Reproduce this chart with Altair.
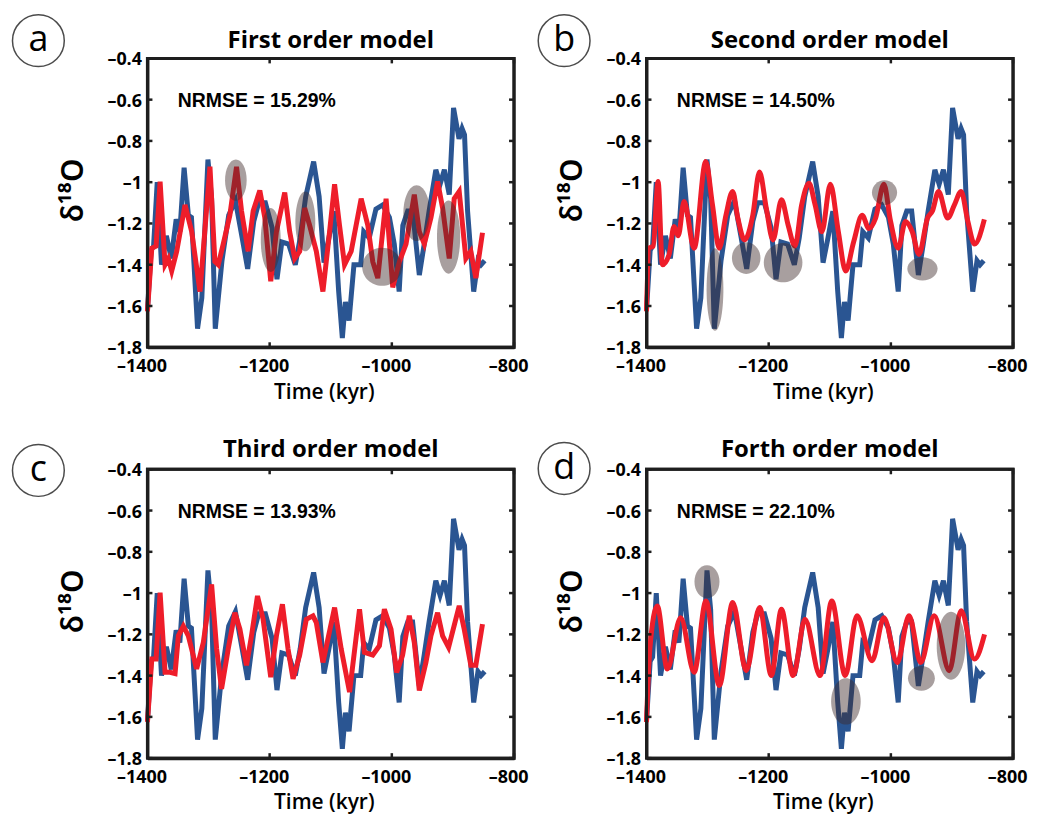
import altair as alt
import pandas as pd

W, H = 368, 290

BLUE = "#2a5592"
RED = "#ee1d2a"
ELL = "#3d2b2b"
FRAME = "#1e1e1e"

# observed record (blue), same in every panel
obs_t = [-1400, -1394, -1390, -1384, -1377, -1369, -1361, -1353, -1347, -1340,
         -1333, -1328, -1318, -1311, -1301, -1295, -1289, -1278, -1267, -1256,
         -1245, -1236, -1226, -1218, -1207, -1196, -1188, -1180, -1169, -1158,
         -1150, -1141, -1128, -1119, -1111, -1103, -1095, -1087, -1081, -1076,
         -1070, -1062, -1051, -1046, -1037, -1026, -1015, -1004, -996, -988,
         -982, -974, -966, -955, -947, -939, -928, -921, -914, -906,
         -899, -890, -885, -881, -876, -866, -859, -854, -848]
obs_v = [-1.62, -1.33, -1.31, -1.00, -1.40, -1.26, -1.37, -1.18, -1.24, -0.93,
         -1.16, -1.17, -1.71, -1.56, -0.89, -1.08, -1.71, -1.38, -1.16, -1.09,
         -1.27, -1.42, -1.19, -1.10, -1.10, -1.22, -1.47, -1.29, -1.30, -1.40,
         -1.27, -1.07, -0.90, -1.07, -1.39, -1.27, -1.14, -1.53, -1.755, -1.58,
         -1.67, -1.40, -1.40, -1.24, -1.27, -1.13, -1.11, -1.17, -1.30, -1.53,
         -1.21, -1.14, -1.14, -1.45, -1.30, -1.14, -0.94, -1.01, -0.94, -1.06,
         -0.64, -0.79, -0.74, -0.77, -1.14, -1.53, -1.38, -1.40, -1.38]

# model outputs (red)
red_a_t = [-1400, -1392.9, -1385.9, -1379.3, -1371.2, -1365.7, -1360.3, -1352.1, -1338.5, -1327.6,
           -1314.0, -1297.7, -1289.6, -1284.1, -1276.0, -1265.1, -1254.2, -1246.0, -1235.2, -1227.0,
           -1216.1, -1208.0, -1198.2, -1188.9, -1175.3, -1167.2, -1159.0, -1150.8, -1142.7, -1134.5,
           -1123.6, -1112.8, -1101.9, -1093.7, -1085.6, -1077.4, -1066.5, -1050.2, -1039.3, -1031.2,
           -1023.0, -1009.4, -998.5, -987.6, -976.8, -963.2, -955.0, -946.8, -935.8, -925.1,
           -916.9, -906.0, -897.9, -889.7, -878.8, -870.7, -862.5, -851.6]
red_a_v = [-1.626, -1.32, -1.31, -0.997, -1.40, -1.37, -1.43, -1.335, -1.11, -1.24,
           -1.53, -0.925, -1.385, -1.40, -1.30, -1.16, -0.925, -1.14, -1.335, -1.14,
           -1.04, -1.17, -1.48, -1.24, -1.05, -1.24, -1.37, -1.335, -1.125, -1.21,
           -1.335, -1.53, -1.24, -1.01, -1.21, -1.40, -1.335, -1.08, -1.21, -1.385,
           -1.465, -1.08, -1.51, -1.385, -1.30, -1.06, -1.24, -1.30, -1.17, -0.997,
           -1.125, -1.37, -1.08, -1.045, -1.37, -1.335, -1.465, -1.245]

red_b_t = [-1400, -1396, -1389, -1381, -1374, -1363, -1355, -1348, -1338.5, -1322,
           -1303, -1292, -1281, -1270, -1259, -1250.5, -1239.5, -1226, -1215, -1204,
           -1193, -1179, -1168, -1157, -1146, -1134, -1124, -1113, -1099, -1086,
           -1074, -1061, -1047, -1036, -1025, -1011.5, -1000.5, -988, -976, -965,
           -954, -940, -932, -922, -907, -896, -885, -874, -863, -847]
red_b_v = [-1.626, -1.32, -1.31, -0.997, -1.40, -1.35, -1.215, -1.26, -1.094, -1.32,
           -0.9, -1.11, -1.32, -1.16, -1.045, -1.174, -1.28, -1.16, -0.95, -1.125,
           -1.28, -1.085, -1.21, -1.31, -1.11, -1.005, -1.11, -1.24, -1.01, -1.24,
           -1.43, -1.29, -1.16, -1.225, -1.174, -1.01, -1.19, -1.32, -1.19, -1.24,
           -1.35, -1.174, -1.14, -1.045, -1.174, -1.11, -1.045, -1.19, -1.30, -1.18]

red_c_t = [-1400, -1392.9, -1385.9, -1379.3, -1371.2, -1363, -1354.8, -1349.4, -1341.2, -1333.1,
           -1319.5, -1308.6, -1295, -1286.8, -1278.7, -1267.8, -1256.9, -1248.7, -1237.9, -1229.7,
           -1219.9, -1210.7, -1198.2, -1188.9, -1179.1, -1169.9, -1161.7, -1150.8, -1140, -1129.1,
           -1123.6, -1112.8, -1093.7, -1082.9, -1069.2, -1052.9, -1044.8, -1031.2, -1020.3, -1012.2,
           -1001.3, -992.1, -982.3, -971.4, -963.2, -955, -944.2, -936, -925.1, -916.9,
           -907.1, -889.7, -881.5, -870.7, -862.5, -851.6]
red_c_v = [-1.625, -1.32, -1.32, -0.998, -1.384, -1.384, -1.39, -1.207, -1.16, -1.207,
           -1.368, -1.24, -0.958, -1.27, -1.464, -1.27, -1.095, -1.175, -1.35, -1.207,
           -1.014, -1.127, -1.408, -1.207, -1.054, -1.27, -1.416, -1.30, -1.127, -1.11,
           -1.143, -1.336, -1.07, -1.27, -1.48, -1.078, -1.287, -1.30, -1.255, -1.078,
           -1.175, -1.384, -1.30, -1.11, -1.24, -1.472, -1.336, -1.207, -1.095, -1.207,
           -1.263, -1.062, -1.175, -1.35, -1.35, -1.15]

red_d_t = [-1400, -1394.5, -1382.4, -1365.9, -1344, -1322, -1302.7, -1280.8, -1258.8, -1236.8,
           -1214.8, -1195.6, -1179.1, -1159.9, -1140.6, -1115.9, -1096.7, -1074.7, -1055.5, -1030.7,
           -1011.5, -989.5, -970.3, -951.1, -929.1, -904.4, -885.1, -863.1, -846.7]
red_d_v = [-1.625, -1.27, -1.062, -1.368, -1.119, -1.384, -1.038, -1.448, -1.046, -1.376,
           -1.07, -1.40, -1.078, -1.40, -1.127, -1.40, -1.038, -1.40, -1.11, -1.328,
           -1.119, -1.336, -1.11, -1.336, -1.11, -1.376, -1.086, -1.32, -1.20]

# highlighted misfits (grey ellipses): centre, full width (kyr), full height
ell_a_t = [-1255.3, -1198.2, -1141.6, -1015.9, -959.4, -907.1]
ell_a_v = [-0.99, -1.28, -1.19, -1.41, -1.15, -1.266]
ell_a_w = [35.4, 32.6, 32.6, 65.3, 43.5, 38.0]
ell_a_h = [0.20, 0.31, 0.29, 0.185, 0.27, 0.355]

ell_b_t = [-1287.9, -1236.8, -1176.4, -1010.4, -948.3]
ell_b_v = [-1.52, -1.368, -1.39, -1.05, -1.42]
ell_b_w = [27.5, 46.7, 63.2, 41.2, 49.5]
ell_b_h = [0.40, 0.153, 0.19, 0.12, 0.113]

ell_c_t, ell_c_v, ell_c_w, ell_c_h = [], [], [], []

ell_d_t = [-1301.0, -1073.6, -950.0, -901.6]
ell_d_v = [-0.945, -1.525, -1.413, -1.255]
ell_d_w = [41.0, 48.4, 44.0, 46.7]
ell_d_h = [0.16, 0.225, 0.12, 0.33]

titles = ["First order model", "Second order model", "Third order model", "Forth order model"]
nrmse = ["NRMSE = 15.29%", "NRMSE = 14.50%", "NRMSE = 13.93%", "NRMSE = 22.10%"]
letters = ["a", "b", "c", "d"]

x_ticks = [-1400, -1200, -1000, -800]
y_ticks = [-1.8, -1.6, -1.4, -1.2, -1.0, -0.8, -0.6, -0.4]

X_DOM = [-1400, -800]
Y_DOM = [-1.8, -0.4]

xs = alt.Scale(domain=X_DOM, nice=False, zero=False)
ys = alt.Scale(domain=Y_DOM, nice=False, zero=False)

xaxis = alt.Axis(
    values=x_ticks,
    labelExpr="(datum.value < 0 ? '–' : '') + format(abs(datum.value), 'd')",
    ticks=False, tickSize=0, grid=False,
    domain=True, domainColor=FRAME, domainWidth=3,
    labelFlush=False, labelOverlap=False,
    labelFont="Open Sans", labelFontSize=18, labelFontWeight="bold", labelColor="black",
    labelPadding=24, labelBaseline="alphabetic", labelOffset=-6,
    title="Time (kyr)", titleFont="Open Sans", titleFontSize=21, titleFontWeight=600,
    titleColor="black", titleX=177, titleY=51, titleBaseline="alphabetic", titleAlign="center",
)
yaxis = alt.Axis(
    values=y_ticks,
    labelExpr="(datum.value < 0 ? '–' : '') + replace(format(abs(datum.value), '.1f'), '.0', '')",
    ticks=False, tickSize=0, grid=False,
    domain=True, domainColor=FRAME, domainWidth=3,
    labelFlush=False, labelOverlap=False,
    labelFont="Open Sans", labelFontSize=18, labelFontWeight="bold", labelColor="black",
    labelPadding=6, labelOffset=1.5,
    title="δ¹⁸O", titleFont="Noto Sans", titleFontSize=30, titleFontWeight=600,
    titleColor="black", titleAngle=270, titleX=-74, titleY=132,
    titleBaseline="middle", titleAlign="center",
)

X = alt.X("t:Q", scale=xs, axis=xaxis)
Y = alt.Y("v:Q", scale=ys, axis=yaxis)

PX_PER_T = W / (X_DOM[1] - X_DOM[0])
PX_PER_V = H / (Y_DOM[1] - Y_DOM[0])
K = 0.5523
TICK_PX = 5

# NRMSE annotation anchor (data units) -> pixel offset inside the plot
NR_T, NR_V = -1350.3, -0.637
NR_X = (NR_T - X_DOM[0]) * PX_PER_T
NR_Y = (Y_DOM[1] - NR_V) * PX_PER_V


def ellipse_frame(ts, vs, ws, hs):
    rows = []
    for t, v, w, h in zip(ts, vs, ws, hs):
        a = w / 2 * PX_PER_T
        b = h / 2 * PX_PER_V
        m = max(a, b)
        rx, ry = a / m, b / m
        kx, ky = K * rx, K * ry
        path = (f"M {rx:.4f} 0 C {rx:.4f} {ky:.4f} {kx:.4f} {ry:.4f} 0 {ry:.4f} "
                f"C {-kx:.4f} {ry:.4f} {-rx:.4f} {ky:.4f} {-rx:.4f} 0 "
                f"C {-rx:.4f} {-ky:.4f} {-kx:.4f} {-ry:.4f} 0 {-ry:.4f} "
                f"C {kx:.4f} {-ry:.4f} {rx:.4f} {-ky:.4f} {rx:.4f} 0 Z")
        rows.append({"t": t, "v": v, "path": path, "sz": (2 * m) ** 2})
    return pd.DataFrame(rows, columns=["t", "v", "path", "sz"])


# box outline (from the axis ranges) and inward tick segments (from the tick lists)
box_df = pd.DataFrame({"t": [X_DOM[0], X_DOM[1], X_DOM[1], X_DOM[0], X_DOM[0]],
                       "v": [Y_DOM[0], Y_DOM[0], Y_DOM[1], Y_DOM[1], Y_DOM[0]],
                       "k": [0, 1, 2, 3, 4]})
seg_rows = []
dv = TICK_PX / PX_PER_V
dt = TICK_PX / PX_PER_T
sid = 0
for xt in x_ticks:
    for y0, y1 in [(Y_DOM[1], Y_DOM[1] - dv), (Y_DOM[0], Y_DOM[0] + dv)]:
        seg_rows += [{"t": xt, "v": y0, "k": 0, "s": sid}, {"t": xt, "v": y1, "k": 1, "s": sid}]
        sid += 1
for yt in y_ticks:
    for x0, x1 in [(X_DOM[0], X_DOM[0] + dt), (X_DOM[1], X_DOM[1] - dt)]:
        seg_rows += [{"t": x0, "v": yt, "k": 0, "s": sid}, {"t": x1, "v": yt, "k": 1, "s": sid}]
        sid += 1
tick_df = pd.DataFrame(seg_rows)

red_sets = [(red_a_t, red_a_v), (red_b_t, red_b_v), (red_c_t, red_c_v), (red_d_t, red_d_v)]
ell_sets = [(ell_a_t, ell_a_v, ell_a_w, ell_a_h), (ell_b_t, ell_b_v, ell_b_w, ell_b_h),
            (ell_c_t, ell_c_v, ell_c_w, ell_c_h), (ell_d_t, ell_d_v, ell_d_w, ell_d_h)]
interp = ["linear", "monotone", "linear", "monotone"]
title_y = [-10.6, -10.6, -12.5, -12.5]
circle_pos = [(-109.5, -17.8), (-82.7, -17.8), (-109.5, 1.2), (-82.7, -0.8)]
obs = pd.DataFrame({"t": obs_t, "v": obs_v})


def panel(i):
    rt, rv = red_sets[i]
    red = pd.DataFrame({"t": rt, "v": rv})
    layers = []
    layers.append(alt.Chart(obs).mark_line(color=BLUE, strokeWidth=5).encode(x=X, y=Y))
    layers.append(alt.Chart(red).mark_line(color=RED, strokeWidth=5, interpolate=interp[i])
                  .encode(x=X, y=Y))
    ell = ellipse_frame(*ell_sets[i])
    if len(ell):
        layers.append(alt.Chart(ell).mark_point(filled=True, color=ELL, opacity=0.45, strokeWidth=0)
                      .encode(x=X, y=Y,
                              shape=alt.Shape("path:N", scale=None),
                              size=alt.Size("sz:Q", scale=None)))
    layers.append(alt.Chart(box_df).mark_line(color=FRAME, strokeWidth=3)
                  .encode(x=X, y=Y, order=alt.Order("k:Q")))
    layers.append(alt.Chart(tick_df).mark_line(color=FRAME, strokeWidth=2.5)
                  .encode(x=X, y=Y, detail="s:N", order=alt.Order("k:Q")))
    one = pd.DataFrame({"label": [letters[i]], "nr": [nrmse[i]], "ttl": [titles[i]]})
    layers.append(alt.Chart(one)
                  .mark_text(align="left", baseline="alphabetic", font="Liberation Sans",
                             fontSize=19.5, fontWeight="bold", color="black")
                  .encode(x=alt.value(NR_X), y=alt.value(NR_Y), text="nr:N"))
    layers.append(alt.Chart(one)
                  .mark_text(align="center", baseline="alphabetic", font="Open Sans",
                             fontSize=24, fontWeight="bold", color="black")
                  .encode(x=alt.value(W / 2), y=alt.value(title_y[i]), text="ttl:N"))
    cx, cy = circle_pos[i]
    layers.append(alt.Chart(one)
                  .mark_point(shape="circle", filled=False, color="black", strokeWidth=1.5,
                              size=2704)
                  .encode(x=alt.value(cx), y=alt.value(cy)))
    layers.append(alt.Chart(one)
                  .mark_text(align="center", baseline="alphabetic", font="Open Sans",
                             fontSize=36, color="black")
                  .encode(x=alt.value(cx), y=alt.value(cy + 10.5), text="label:N"))
    return alt.layer(*layers).properties(width=W, height=H)


chart = (
    alt.concat(*[panel(i) for i in range(4)], columns=2,
               spacing={"row": 122.5, "column": 133}, bounds="flush")
    .configure_view(stroke=FRAME, strokeWidth=3)
    .properties(padding={"left": 0, "top": 0, "right": 0, "bottom": 3}, background="white")
)

chart.save("out.html", embed_options={"renderer": "svg", "actions": False})
